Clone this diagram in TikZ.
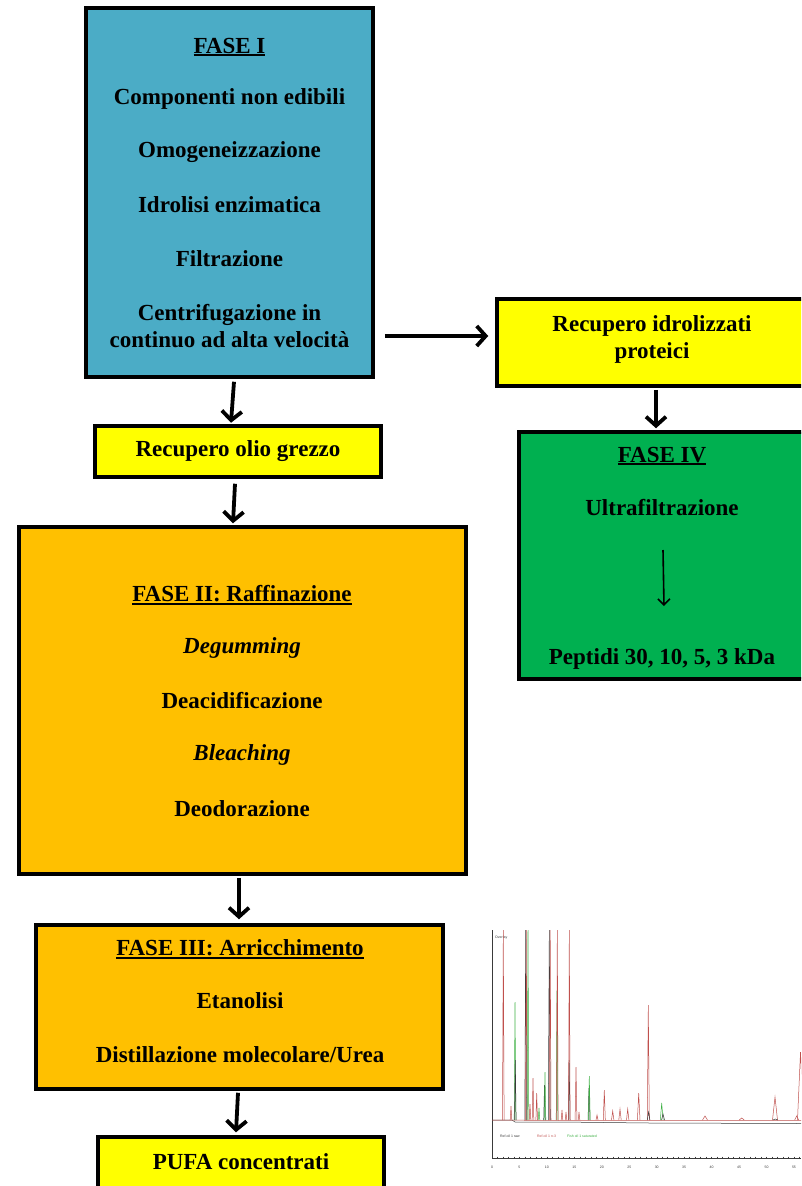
\documentclass[tikz,border=0pt]{standalone}
\usepackage{fontspec}
\setmainfont{Liberation Serif}
\setsansfont{Liberation Sans}
\usetikzlibrary{arrows.meta,calc}
\definecolor{tealbox}{HTML}{4BACC6}
\definecolor{yelbox}{HTML}{FFFF00}
\definecolor{grnbox}{HTML}{00B050}
\definecolor{orgbox}{HTML}{FFC000}
\definecolor{chred}{HTML}{C0504D}
\definecolor{chgrn}{HTML}{3CB043}
\definecolor{chdark}{HTML}{3A3A3A}
\newcommand\myul[1]{\setbox0\hbox{#1}\leavevmode\rlap{\rule[-3.2pt]{\wd0}{1.8pt}}\box0}
\newcommand\pkk[4]{\draw[#1] (#2-#4,1120) -- (#2,#3) -- (#2+#4,1120);}
\tikzset{
  box/.style={draw=black,line width=3.5pt,rectangle,inner sep=0pt},
  lbl/.style={font=\bfseries\fontsize{23}{27}\selectfont,align=center,inner sep=0pt,anchor=center,text=black},
  arr/.style={line width=3.8pt,-{Straight Barb[length=9pt,width=20pt]}},
  thinarr/.style={line width=1.6pt,-{Straight Barb[length=6pt,width=12pt]}},
  pk/.style={line width=0.5pt},
  tick/.style={line width=0.4pt,draw=chdark},
  tiny/.style={font=\sffamily\fontsize{3.5}{4}\selectfont,inner sep=0pt}
}
\begin{document}
\begin{tikzpicture}[x=1pt,y=-1pt]
\useasboundingbox (0,0) rectangle (801,1186);
\fill[white] (0,0) rectangle (801,1186);
\clip (0,0) rectangle (801,1186);

% ---- FASE I
\node[box,fill=tealbox,minimum width=287pt,minimum height=369pt] (f1) at (229.5,192.5) {};
\node[lbl] (f1a) at (229.5,47) {\myul{FASE I}};
\node[lbl] (f1b) at (229.5,99) {Componenti non edibili};
\node[lbl] (f1c) at (229.5,152) {Omogeneizzazione};
\node[lbl] (f1d) at (229.5,205) {Idrolisi enzimatica};
\node[lbl] (f1e) at (229.5,259) {Filtrazione};
\node[lbl] (f1f) at (229.5,326) {Centrifugazione in\\continuo ad alta velocità};

% ---- Recupero idrolizzati proteici
\node[box,fill=yelbox,minimum width=310pt,minimum height=87pt] (rip) at (652,342.5) {};
\node[lbl] (ript) at (652,339) {Recupero idrolizzati\\proteici};

% ---- FASE IV
\node[box,fill=grnbox,minimum width=286pt,minimum height=247pt] (f4) at (662,555.5) {};
\node[lbl] (f4a) at (662,456) {\myul{FASE IV}};
\node[lbl] (f4b) at (662,508) {Ultrafiltrazione};
\node[lbl] (f4c) at (662,659) {Peptidi 30, 10, 5, 3 kDa};
\coordinate (f4s) at (663,550);
\coordinate (f4e) at (664,606);

% ---- Recupero olio grezzo
\node[box,fill=yelbox,minimum width=286pt,minimum height=51pt] (rog) at (238,451.5) {};
\node[lbl] (rogt) at (238,451) {Recupero olio grezzo};

% ---- FASE II
\node[box,fill=orgbox,minimum width=447pt,minimum height=347pt] (f2) at (242.5,700.5) {};
\node[lbl] (f2a) at (242,595) {\myul{FASE II: Raffinazione}};
\node[lbl] (f2b) at (242,648) {\textit{Degumming}};
\node[lbl] (f2c) at (242,701) {Deacidificazione};
\node[lbl] (f2d) at (242,755) {\textit{Bleaching}};
\node[lbl] (f2e) at (242,809) {Deodorazione};

% ---- FASE III
\node[box,fill=orgbox,minimum width=407pt,minimum height=164pt] (f3) at (239.5,1007) {};
\node[lbl] (f3a) at (240,949) {\myul{FASE III: Arricchimento}};
\node[lbl] (f3b) at (240,1001) {Etanolisi};
\node[lbl] (f3c) at (240,1055) {Distillazione molecolare/Urea};

% ---- PUFA concentrati
\node[box,fill=yelbox,minimum width=286pt,minimum height=54pt] (pufa) at (241,1164) {};
\node[lbl] (pufat) at (241,1162) {PUFA concentrati};

% ---- connectors
\draw[arr] ($(f1.east)+(10,143.5)$) -- ($(rip.west)+(-7,-6.5)$);
\draw[arr] ($(f1.south)+(4.5,3)$) -- ($(rog.north)+(-7,-1.5)$);
\draw[arr] ($(rog.south)+(-3,5)$) -- ($(f2.north)+(-9.5,-2)$);
\draw[arr] ($(f2.south)+(-3.5,2)$) -- ($(f3.north)+(-0.5,-4)$);
\draw[arr] ($(f3.south)+(-1.5,2)$) -- ($(pufa.north)+(-5,-3)$);
\draw[arr] ($(rip.south)+(4,2)$) -- ($(f4.north)+(-6,-2)$);
\draw[thinarr] (f4s) -- (f4e);

% ---- chromatogram
\draw[tick] (492,930) -- (492,1158) -- (801,1158);
\foreach \k in {0,...,56} { \draw[tick] (492+\k*5.49,1156.5) -- (492+\k*5.49,1158); }
\foreach \k in {0,...,11} {
  \pgfmathtruncatemacro\lab{5*\k}
  \node[tiny,text=chdark] (tl\k) at (492+\k*27.45,1167) {\lab};
}
\node[tiny,text=chdark,anchor=west] (ovl) at (495,938) {Overlay};
\node[tiny,text=chdark,anchor=west] (lg1) at (500,1136) {Ref.oil 1 raw};
\node[tiny,text=chred,anchor=west] (lg2) at (537,1136) {Ref.oil 1 n-3};
\node[tiny,text=chgrn,anchor=west] (lg3) at (567,1136) {Fish oil 1 saturated};

% baselines
\draw[pk,chdark] (492,1120) -- (512,1120) -- (515,1122) -- (560,1122) -- (650,1123) -- (801,1123.5);
\draw[pk,chred] (492,1120) -- (560,1120.5) -- (801,1120.5);
% peaks
\pkk{pk,chred}{503.3}{930}{0.8}
\pkk{pk,chgrn}{515}{1002}{0.8}
\pkk{pk,chdark}{515.3}{1060}{0.8}
\pkk{pk,chred}{511}{1106}{0.8}
\pkk{pk,chdark}{525.7}{930}{0.9}
\pkk{pk,chred}{526.3}{930}{0.8}
\pkk{pk,chgrn}{528}{930}{0.8}
\pkk{pk,chred}{530}{1104}{0.8}
\pkk{pk,chred}{533}{1078}{0.8}
\pkk{pk,chred}{536.7}{1093}{0.8}
\pkk{pk,chgrn}{539}{1108}{0.8}
\pkk{pk,chdark}{544.5}{1085}{0.8}
\pkk{pk,chgrn}{545}{1072}{0.8}
\pkk{pk,chdark}{549.3}{930}{1.0}
\pkk{pk,chred}{550.2}{930}{0.8}
\pkk{pk,chgrn}{557}{990}{0.8}
\pkk{pk,chred}{557.3}{930}{0.8}
\pkk{pk,chred}{562}{1110}{0.8}
\pkk{pk,chred}{566}{1112}{0.8}
\pkk{pk,chdark}{569.2}{1060}{0.8}
\pkk{pk,chred}{569.3}{930}{0.8}
\pkk{pk,chred}{576}{1067}{0.9}
\pkk{pk,chred}{579}{1112}{0.8}
\pkk{pk,chdark}{589}{1088}{1.0}
\pkk{pk,chgrn}{589.3}{1076}{0.9}
\pkk{pk,chred}{597}{1115}{1.0}
\pkk{pk,chred}{604.3}{1090}{1.0}
\pkk{pk,chred}{612.7}{1111}{1.2}
\pkk{pk,chred}{620}{1109}{1.2}
\pkk{pk,chred}{627.7}{1109}{1.2}
\pkk{pk,chred}{638.7}{1093}{1.3}
\pkk{pk,chred}{648.3}{1005}{1.0}
\pkk{pk,chdark}{648.6}{1112}{1.3}
\pkk{pk,chgrn}{661.7}{1103}{1.4}
\pkk{pk,chdark}{663}{1114}{1.5}
\pkk{pk,chred}{705}{1116}{2.5}
\pkk{pk,chred}{741.7}{1118}{2.5}
\pkk{pk,chred}{775}{1097}{2.5}
\pkk{pk,chdark}{775.3}{1119}{2.5}
\pkk{pk,chred}{796.7}{1116}{2.0}
\pkk{pk,chred}{800.5}{1052}{3.0}
\end{tikzpicture}
\end{document}
